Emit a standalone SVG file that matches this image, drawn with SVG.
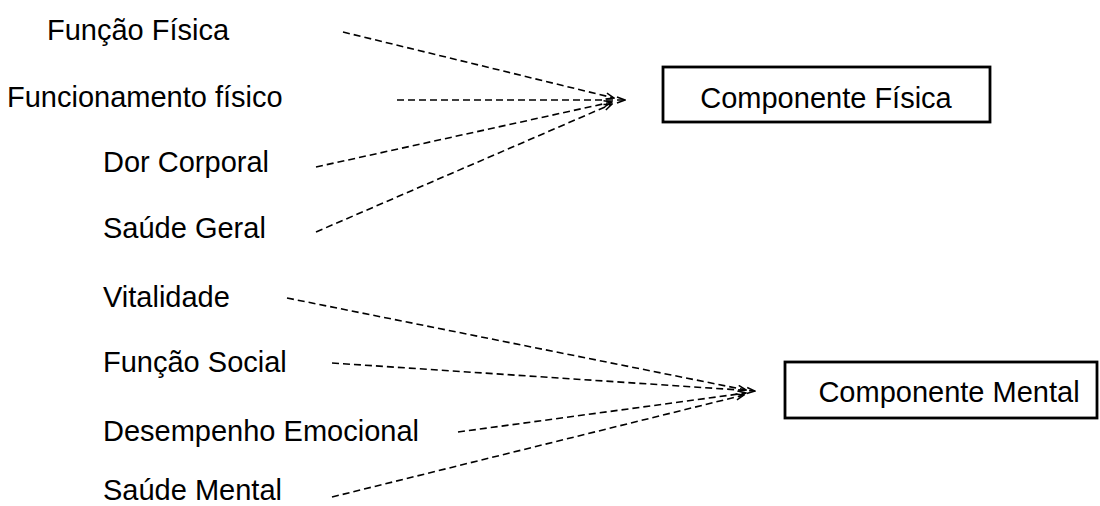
<svg xmlns="http://www.w3.org/2000/svg" width="1100" height="506" viewBox="0 0 1100 506">
<defs>
<style>
text{font-family:"Liberation Sans",Arial,sans-serif;font-size:29px;fill:#000}
.box{fill:#fff;stroke:#000;stroke-width:2.8}
.c{fill:none;stroke:#000;stroke-width:1.6;stroke-dasharray:7 4}
</style>
<marker id="ah" markerWidth="10" markerHeight="8" refX="9" refY="4" orient="auto" markerUnits="userSpaceOnUse">
<path d="M1,1 L9,4 L1,7" fill="none" stroke="#000" stroke-width="1.5"/>
</marker>
</defs>
<rect width="1100" height="506" fill="#fff"/>
<g id="labels">
<g id="n-funcao-fisica"><text x="47" y="40">Função Física</text></g>
<g id="n-funcionamento"><text x="7" y="107">Funcionamento físico</text></g>
<g id="n-dor"><text x="103" y="172">Dor Corporal</text></g>
<g id="n-saude-geral"><text x="103" y="238">Saúde Geral</text></g>
<g id="n-vitalidade"><text x="103" y="307">Vitalidade</text></g>
<g id="n-funcao-social"><text x="103" y="372">Função Social</text></g>
<g id="n-desempenho"><text x="103" y="441">Desempenho Emocional</text></g>
<g id="n-saude-mental"><text x="103" y="500">Saúde Mental</text></g>
</g>
<g id="n-comp-fisica">
<rect class="box" x="663" y="67" width="327" height="55"/>
<text x="826" y="108" text-anchor="middle">Componente Física</text>
</g>
<g id="n-comp-mental">
<rect class="box" x="785" y="362" width="312" height="56"/>
<text x="949" y="402" text-anchor="middle">Componente Mental</text>
</g>
<g id="connectors">
<line class="c" x1="343" y1="32" x2="614" y2="98" marker-end="url(#ah)"/>
<line class="c" x1="397" y1="100" x2="625" y2="100" marker-end="url(#ah)"/>
<line class="c" x1="316" y1="167" x2="612" y2="102" marker-end="url(#ah)"/>
<line class="c" x1="316" y1="232" x2="612" y2="104" marker-end="url(#ah)"/>
<line class="c" x1="287" y1="298" x2="746" y2="390" marker-end="url(#ah)"/>
<line class="c" x1="332" y1="363" x2="755" y2="391" marker-end="url(#ah)"/>
<line class="c" x1="458" y1="432" x2="746" y2="393" marker-end="url(#ah)"/>
<line class="c" x1="332" y1="497" x2="744" y2="395" marker-end="url(#ah)"/>
</g>
</svg>
